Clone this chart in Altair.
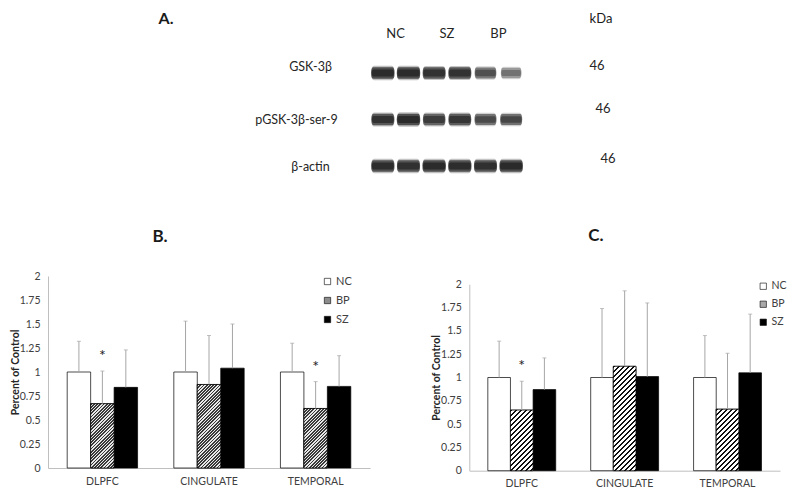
import altair as alt
import pandas as pd

# ---------------- data ----------------
regions = ["DLPFC", "CINGULATE", "TEMPORAL"]
groups = ["NC", "BP", "SZ"]
y_ticks = [0, 0.25, 0.5, 0.75, 1, 1.25, 1.5, 1.75, 2]

# Panel B
b_nc = [1.00, 1.00, 1.00]
b_bp = [0.67, 0.87, 0.62]
b_sz = [0.84, 1.04, 0.85]
b_nc_top = [1.32, 1.53, 1.30]
b_bp_top = [1.01, 1.38, 0.90]
b_sz_top = [1.23, 1.50, 1.17]
b_star_regions = ["DLPFC", "TEMPORAL"]
b_star_y = [1.21, 1.09]

# Panel C
c_nc = [1.00, 1.00, 1.00]
c_bp = [0.65, 1.12, 0.66]
c_sz = [0.87, 1.01, 1.05]
c_nc_top = [1.39, 1.74, 1.45]
c_bp_top = [0.96, 1.93, 1.26]
c_sz_top = [1.21, 1.80, 1.68]
c_star_regions = ["DLPFC"]
c_star_y = [1.17]

# Panel A (western blot)
blot_rows = ["GSK-3β", "pGSK-3β-ser-9", "β-actin"]
lane_groups = ["NC", "SZ", "BP"]
lane_group = ["NC", "NC", "SZ", "SZ", "BP", "BP"]
lane_rep = ["1", "2", "1", "2", "1", "2"]
gsk_intensity = [0.95, 0.95, 0.88, 0.88, 0.66, 0.48]
pgsk_intensity = [0.88, 0.95, 0.80, 0.85, 0.70, 0.72]
actin_intensity = [0.92, 0.90, 0.95, 0.93, 0.90, 0.96]
mw_labels = ["46", "46", "46"]
panel_letters = ["A.", "B.", "C."]
unit_label = "kDa"

# ---------------- layout ----------------
W, H = 784, 485
FONT = "Lato"
PI, PO = 0.34, 0.18


def bar_frame(nc, bp, sz, nct, bpt, szt):
    rows = []
    for i, r in enumerate(regions):
        for g, v, t in (("NC", nc[i], nct[i]), ("BP", bp[i], bpt[i]), ("SZ", sz[i], szt[i])):
            rows.append({"region": r, "group": g, "value": v, "top": t})
    return pd.DataFrame(rows)


def hatch_gradient(w, h, period, frac, dark, light):
    total = w + h
    n = total / period
    k = total / (w * w + h * h)
    stops = []
    i = 0
    while i < n:
        a = i / n
        b = min((i + frac) / n, 1.0)
        c = min((i + 1) / n, 1.0)
        stops += [
            alt.GradientStop(offset=a, color=dark),
            alt.GradientStop(offset=b, color=dark),
            alt.GradientStop(offset=b, color=light),
            alt.GradientStop(offset=c, color=light),
        ]
        i += 1
    return alt.LinearGradient(gradient="linear", x1=0, y1=0, x2=w * k, y2=h * k, stops=stops)


def panel(df, star_regions, star_y, x_range, y_range, legend_xy, bp_gray,
          period, frac, dark, light, legend_font):
    xs = alt.Scale(type="band", domain=regions, range=x_range, paddingInner=PI, paddingOuter=PO)
    xo = alt.Scale(type="band", domain=groups, paddingInner=0, paddingOuter=0)
    ys = alt.Scale(domain=[0, 2], range=y_range, nice=False, zero=True)
    x_enc = alt.X("region:N", scale=xs, sort=regions, axis=alt.Axis(
        orient="bottom", offset=-(H - y_range[0]), title=None, labelAngle=0,
        ticks=False, tickSize=0, domainColor="#bfbfbf", labelPadding=8,
        labelFont=FONT, labelFontSize=10.5, labelColor="#404040"))
    xo_enc = alt.XOffset("group:N", scale=xo, sort=groups)
    y_axis = alt.Axis(
        orient="left", offset=-x_range[0], values=y_ticks, format=".2~f", grid=False,
        ticks=False, tickSize=0, domainColor="#bfbfbf", labelPadding=8,
        labelFont=FONT, labelFontSize=10.5, labelColor="#404040",
        title="Percent of Control", titleFont=FONT, titleFontSize=10.5,
        titleFontWeight="bold", titleColor="#262626", titleX=-28)
    y_val = alt.Y("value:Q", scale=ys, axis=y_axis)

    base = alt.Chart(df)
    bars = base.mark_bar(stroke="#000", strokeWidth=0.7).encode(
        x=x_enc, xOffset=xo_enc, y=y_val,
        fill=alt.Fill("group:N", sort=groups,
                      scale=alt.Scale(domain=groups, range=["#ffffff", bp_gray, "#000000"]),
                      legend=alt.Legend(orient="none", legendX=legend_xy[0], legendY=legend_xy[1],
                                        title=None, symbolType="square", symbolSize=40,
                                        symbolStrokeColor="#000", symbolStrokeWidth=0.6,
                                        labelFont=FONT, labelFontSize=legend_font, labelColor="#404040",
                                        rowPadding=7, labelOffset=3, padding=0)))
    layers = [bars]

    step = (x_range[1] - x_range[0]) / (3 - PI + 2 * PO)
    bar_w = step * (1 - PI) / 3
    ppu = (y_range[0] - y_range[1]) / 2.0
    bp_df = df[df["group"] == "BP"]
    for r in regions:
        sub = bp_df[bp_df["region"] == r]
        h = float(sub["value"].iloc[0]) * ppu
        grad = hatch_gradient(bar_w, h, period, frac, dark, light)
        layers.append(alt.Chart(sub).mark_bar(fill=grad, stroke="#000", strokeWidth=0.7).encode(
            x=x_enc, xOffset=xo_enc, y=y_val))

    errs = base.mark_rule(color="#a6a6a6", strokeWidth=1).encode(
        x=x_enc, xOffset=xo_enc, y=y_val, y2="top:Q")
    caps = base.mark_tick(color="#a6a6a6", thickness=1, size=4).encode(
        x=x_enc, xOffset=xo_enc, y=alt.Y("top:Q", scale=ys, axis=y_axis))
    sdf = pd.DataFrame({"region": star_regions, "group": ["BP"] * len(star_regions), "value": star_y})
    stars = alt.Chart(sdf).mark_text(text="*", font=FONT, fontSize=16, color="#222222",
                                     baseline="middle", dy=4).encode(
        x=x_enc, xOffset=xo_enc, y=y_val)
    layers += [errs, caps, stars]
    return alt.layer(*layers)


dfB = bar_frame(b_nc, b_bp, b_sz, b_nc_top, b_bp_top, b_sz_top)
dfC = bar_frame(c_nc, c_bp, c_sz, c_nc_top, c_bp_top, c_sz_top)

B = panel(dfB, b_star_regions, b_star_y, [40, 362], [460, 268], (314, 268), "#8c8c8c",
          3.2, 0.55, "#3a3a3a", "#e8e8e8", 11)
C = panel(dfC, c_star_regions, c_star_y, [461.3, 772], [462.7, 276.3], (750, 273), "#a8a8a8",
          5.0, 0.45, "#111111", "#ffffff", 10.5)

# ---------------- panel A: blot ----------------
rows = []
for prot, ints in zip(blot_rows, [gsk_intensity, pgsk_intensity, actin_intensity]):
    for g, rep, v in zip(lane_group, lane_rep, ints):
        rows.append({"protein": prot, "group": g, "rep": rep, "intensity": v})
blot = pd.DataFrame(rows)

ax = alt.Scale(type="band", domain=lane_groups, range=[362, 516], paddingInner=0, paddingOuter=0)
axo = alt.Scale(type="band", domain=["1", "2"], paddingInner=0, paddingOuter=0)
ay = alt.Scale(type="point", domain=blot_rows, range=[65, 158], padding=0)


def cond(values, default):
    return {"condition": [{"test": f"datum.value === '{k}'", "value": v} for k, v in values],
            "value": default}


ax_enc = alt.X("group:N", scale=ax, sort=lane_groups, axis=alt.Axis(
    orient="top", offset=-36, domain=False, ticks=False, tickSize=0, labelPadding=4,
    labelFont=FONT, labelFontSize=13, labelColor="#262626", title=None, labelAngle=0))
axo_enc = alt.XOffset("rep:N", scale=axo)
ay_left = alt.Y("protein:N", scale=ay, sort=blot_rows, axis=alt.Axis(
    orient="left", offset=-352, domain=False, ticks=False, tickSize=0,
    labelAlign="center", labelBaseline="middle",
    labelPadding=cond([(blot_rows[0], 50), (blot_rows[1], 64)], 50),
    labelOffset=cond([(blot_rows[0], -7)], 0),
    labelFont=FONT, labelFontSize=12.5, labelColor="#262626", title=None))
ay_none = alt.Y("protein:N", scale=ay, sort=blot_rows, axis=None)

mw_expr = " : ".join(f"datum.value === '{p}' ? '{m}'" for p, m in zip(blot_rows, mw_labels)) + " : ''"
ay_right = alt.Y("protein:N", scale=ay, sort=blot_rows, axis=alt.Axis(
    orient="right", offset=575 - W, domain=False, ticks=False, tickSize=0,
    labelAlign="left", labelBaseline="middle", labelExpr=mw_expr,
    labelPadding=cond([(blot_rows[0], 6), (blot_rows[1], 12)], 17),
    labelOffset=cond([(blot_rows[1], -11)], -8),
    labelFont=FONT, labelFontSize=13, labelColor="#262626", title=None))

halo_path = ("M-0.75,-0.62 L0.75,-0.62 Q1,-0.62 1,0 Q1,0.62 0.75,0.62 "
             "L-0.75,0.62 Q-1,0.62 -1,0 Q-1,-0.62 -0.75,-0.62 Z")
band_path = ("M-0.8,-0.5 L0.8,-0.5 Q1,-0.5 1,0 Q1,0.5 0.8,0.5 "
             "L-0.8,0.5 Q-1,0.5 -1,0 Q-1,-0.5 -0.8,-0.5 Z")
core_path = ("M-0.8,-0.3 L0.8,-0.3 Q0.95,-0.3 0.95,0 Q0.95,0.3 0.8,0.3 "
             "L-0.8,0.3 Q-0.95,0.3 -0.95,0 Q-0.95,-0.3 -0.8,-0.3 Z")
size_sc = alt.Scale(domain=[0.4, 1.0], range=[330, 470])
op_sc = alt.Scale(domain=[0, 1], range=[0, 1])

bb = alt.Chart(blot)
halo = bb.mark_point(shape=halo_path, filled=True, color="#444444", strokeWidth=0, opacity=0.35).encode(
    x=ax_enc, xOffset=axo_enc, y=ay_left,
    size=alt.Size("intensity:Q", scale=alt.Scale(domain=[0.4, 1.0], range=[400, 560]), legend=None),
    fillOpacity=alt.FillOpacity("intensity:Q", scale=op_sc, legend=None))
body = bb.mark_point(shape=band_path, filled=True, color="#2a2a2a", strokeWidth=0, opacity=0.8).encode(
    x=ax_enc, xOffset=axo_enc, y=ay_none,
    size=alt.Size("intensity:Q", scale=size_sc, legend=None),
    fillOpacity=alt.FillOpacity("intensity:Q", scale=op_sc, legend=None))
core = bb.mark_point(shape=core_path, filled=True, color="#111111", strokeWidth=0, opacity=0.6).encode(
    x=ax_enc, xOffset=axo_enc, y=ay_none,
    size=alt.Size("intensity:Q", scale=size_sc, legend=None),
    fillOpacity=alt.FillOpacity("intensity:Q", scale=op_sc, legend=None))
mw = alt.Chart(pd.DataFrame({"protein": blot_rows})).mark_point(opacity=0).encode(y=ay_right)

A = alt.layer(halo, body, core, mw).resolve_axis(y="independent")


def label(text, x, y, size, weight="normal"):
    return alt.Chart(pd.DataFrame({"t": [text]})).mark_text(
        font=FONT, fontSize=size, fontWeight=weight, color="#1a1a1a",
        align="center", baseline="middle").encode(text="t:N", x=alt.value(x), y=alt.value(y))


letters = [
    label(panel_letters[0], 158, 11, 16, "bold"),
    label(panel_letters[1], 152, 228.5, 17, "bold"),
    label(panel_letters[2], 588, 227.5, 17, "bold"),
    label(unit_label, 593, 11, 13),
]

chart = alt.layer(A, B, C, *letters).resolve_scale(
    x="independent", y="independent", xOffset="independent", fill="independent",
    size="independent", fillOpacity="independent"
).resolve_axis(x="independent", y="independent").resolve_legend(
    fill="independent", size="independent", fillOpacity="independent"
).properties(
    width=W, height=H, padding=0, autosize=alt.AutoSizeParams(type="none")
).configure_view(stroke=None)

chart.save("out.html", embed_options={"renderer": "svg", "actions": False})
